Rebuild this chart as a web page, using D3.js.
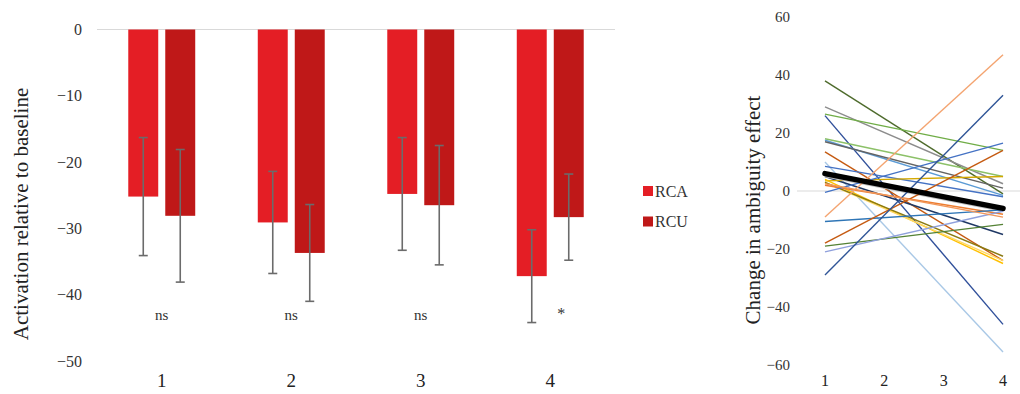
<!DOCTYPE html>
<html><head><meta charset="utf-8">
<script src="https://cdn.jsdelivr.net/npm/d3@7"></script>
<style>body{margin:0;background:#fff}svg text{font-family:'Liberation Serif','Times New Roman',Times,serif !important}</style>
</head><body>
<svg id="c" width="1020" height="394"></svg>
<script>
// ---- left chart data ----
const categories = ["1","2","3","4"];
const seriesNames = ["RCA","RCU"];
const rcaValues = [-25.2,-29.1,-24.8,-37.2];
const rcuValues = [-28.1,-33.7,-26.5,-28.3];
const rcaErrors = [8.9,7.7,8.5,7.0];
const rcuErrors = [10.0,7.3,9.0,6.5];
const sigLabels = ["ns","ns","ns","*"];
const leftTicks = [0,-10,-20,-30,-40,-50];
// ---- right chart data ----
const rightCats = [1,2,3,4];
const rightTicks = [60,40,20,0,-20,-40,-60];
const lineStart = [38,29,26.5,26,18,17.5,17,13.5,10,8.5,5,3.5,4,3,3,2,5,-0.5,-9,-10.5,-18,-19,-21,-29,2.5];
const lineEnd   = [-1,2.5,14,-46,5,-1.5,1,-24,-55.5,-2,-15,5,-25,-24,-22.5,-8,-7,16.5,47,-6.5,14,-11.5,-7,33,-9];
const lineColors= ["#4e6b2c","#8c8c8c","#70ad47","#2f4f9a","#8cc168","#5b9bd5","#636363","#c55a11","#a9c8e6","#4472c4","#1f3864","#d4a800","#ffc000","#ffd966","#8a7a12","#ed7d31","#bdbdbd","#4472c4","#f4a470","#2e75b6","#c55a11","#548235","#8fa0dc","#2f5597","#f1975a"];
const meanStart = 6, meanEnd = -6;

const FONT = "'Liberation Serif','Times New Roman',Times,serif";
const svg = d3.select("#c");
const colors = {RCA:"#e41e25", RCU:"#bf1818"};

// ---- left chart ----
const yL = d3.scaleLinear().domain([-50,0]).range([361,29.5]);
const x0 = d3.scaleBand().domain(categories).range([97,615]).paddingInner(0.483).paddingOuter(0.2415);
const x1 = d3.scaleBand().domain(seriesNames).range([0,x0.bandwidth()]).paddingInner(0.19);

svg.append("line").attr("x1",97).attr("x2",615).attr("y1",yL(0)).attr("y2",yL(0)).attr("stroke","#d9d9d9").attr("stroke-width",1);

const yAxL = svg.append("g").attr("transform","translate(82,0)").attr("font-family",FONT).call(d3.axisLeft(yL).tickValues(leftTicks).tickSize(0).tickPadding(0));
yAxL.attr("font-family",FONT);
yAxL.select(".domain").remove();
yAxL.selectAll("text").attr("font-size",16).attr("fill","#333");

const rows = categories.map((c,i)=>({c, vals:[{s:"RCA",v:rcaValues[i],e:rcaErrors[i]},{s:"RCU",v:rcuValues[i],e:rcuErrors[i]}]}));
const g = svg.append("g").selectAll("g").data(rows).join("g").attr("transform",d=>`translate(${x0(d.c)},0)`);
g.selectAll("rect").data(d=>d.vals).join("rect")
  .attr("x",d=>x1(d.s)).attr("width",x1.bandwidth())
  .attr("y",yL(0)).attr("height",d=>yL(d.v)-yL(0)).attr("fill",d=>colors[d.s]);
const eb = g.selectAll("g.eb").data(d=>d.vals).join("g").attr("class","eb").attr("stroke","#6b6b6b").attr("stroke-width",1.6);
eb.append("line").attr("x1",d=>x1(d.s)+x1.bandwidth()/2).attr("x2",d=>x1(d.s)+x1.bandwidth()/2).attr("y1",d=>yL(d.v+d.e)).attr("y2",d=>yL(d.v-d.e));
eb.append("line").attr("x1",d=>x1(d.s)+x1.bandwidth()/2-4.5).attr("x2",d=>x1(d.s)+x1.bandwidth()/2+4.5).attr("y1",d=>yL(d.v+d.e)).attr("y2",d=>yL(d.v+d.e));
eb.append("line").attr("x1",d=>x1(d.s)+x1.bandwidth()/2-4.5).attr("x2",d=>x1(d.s)+x1.bandwidth()/2+4.5).attr("y1",d=>yL(d.v-d.e)).attr("y2",d=>yL(d.v-d.e));

svg.selectAll("text.sig").data(categories).join("text").attr("class","sig")
  .attr("x",(c,i)=>x0(c)+x0.bandwidth()/2 + (sigLabels[i]==="*"?11:0))
  .attr("y",(c,i)=>sigLabels[i]==="*"?319:320).attr("text-anchor","middle")
  .attr("font-size",(c,i)=>sigLabels[i]==="*"?16:15).attr("fill","#333").text((c,i)=>sigLabels[i]);

svg.selectAll("text.xl").data(categories).join("text").attr("class","xl")
  .attr("x",c=>x0(c)+x0.bandwidth()/2).attr("y",387).attr("text-anchor","middle")
  .attr("font-size",19).attr("fill","#222").text(c=>c);

svg.append("text").attr("transform","translate(28,214) rotate(-90)").attr("text-anchor","middle")
  .attr("font-size",21).attr("fill","#222").text("Activation relative to baseline");

// legend
const leg = svg.append("g").selectAll("g").data(seriesNames).join("g").attr("transform",(d,i)=>`translate(643,${191+i*30.5})`);
leg.append("rect").attr("x",0).attr("y",-5).attr("width",10).attr("height",10).attr("fill",d=>colors[d]);
leg.append("text").attr("x",12).attr("y",0).attr("dy","0.35em").attr("font-size",16).attr("fill","#333").text(d=>d);

// ---- right chart ----
const yR = d3.scaleLinear().domain([-60,60]).range([365,17]);
const xR = d3.scalePoint().domain(rightCats).range([795.3,1032.7]).padding(0.5);

svg.append("line").attr("x1",797).attr("x2",1032).attr("y1",yR(0)).attr("y2",yR(0)).attr("stroke","#d9d9d9").attr("stroke-width",1);
const yAxR = svg.append("g").attr("transform","translate(790,0)").call(d3.axisLeft(yR).tickValues(rightTicks).tickSize(0).tickPadding(0));
yAxR.attr("font-family",FONT);
yAxR.select(".domain").remove();
yAxR.selectAll("text").attr("font-size",15).attr("fill","#333");

svg.selectAll("text.xr").data(rightCats).join("text").attr("class","xr")
  .attr("x",c=>xR(c)).attr("y",386).attr("text-anchor","middle").attr("font-size",16).attr("fill","#222").text(c=>c);

svg.append("text").attr("transform","translate(760,210) rotate(-90)").attr("text-anchor","middle")
  .attr("font-size",21).attr("fill","#222").text("Change in ambiguity effect");

const lineGen = d3.line().x(d=>xR(d[0])).y(d=>yR(d[1]));
const lines = lineStart.map((s,i)=>({pts:[[1,s],[4,lineEnd[i]]], color:lineColors[i]}));
svg.append("g").selectAll("path").data(lines).join("path")
  .attr("d",d=>lineGen(d.pts)).attr("stroke",d=>d.color).attr("stroke-width",1.4).attr("fill","none");
svg.append("path").attr("d",lineGen([[1,meanStart],[4,meanEnd]])).attr("stroke","#000").attr("stroke-width",5.5).attr("stroke-linecap","round").attr("fill","none");
</script>
</body></html>
